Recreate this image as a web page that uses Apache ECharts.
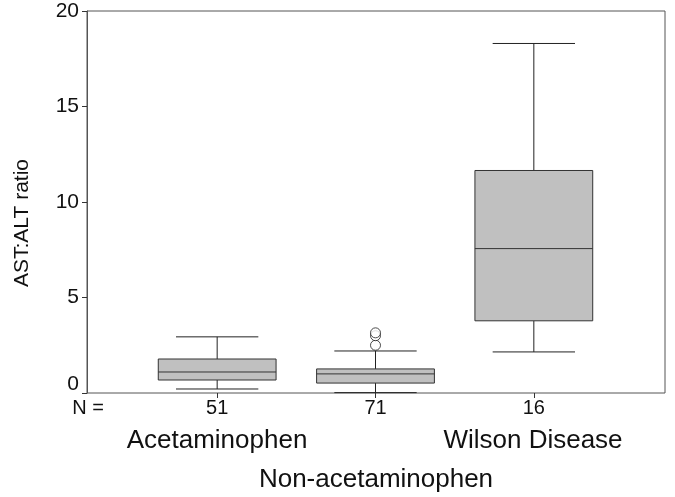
<!DOCTYPE html>
<html>
<head>
<meta charset="utf-8">
<script src="https://cdn.jsdelivr.net/npm/echarts@6/dist/echarts.min.js"></script>
<style>html,body{margin:0;padding:0;background:#fff}#c{width:675px;height:497px}</style>
</head>
<body>
<div id="c"></div>
<script>
// ---- data ----
var nLabels = ['51', '71', '16'];
var groupLabels = ['Acetaminophen', 'Non-acetaminophen', 'Wilson Disease'];
var lowWhisker = [0.21, 0.02, 2.15];
var q1Values = [0.68, 0.52, 3.78];
var medians = [1.10, 1.00, 7.56];
var q3Values = [1.78, 1.26, 11.65];
var highWhisker = [2.94, 2.20, 18.3];
var outlierGroup = [1, 1, 1];
var outlierValues = [2.50, 3.00, 3.15];
var yTicks = [0, 5, 10, 15, 20];
var yTitle = 'AST:ALT ratio';

var boxData = nLabels.map(function (n, i) {
  return [i, lowWhisker[i], q1Values[i], medians[i], q3Values[i], highWhisker[i]];
});
var outData = outlierValues.map(function (v, i) { return [outlierGroup[i], v]; });

var FONT = 'Liberation Sans, Arial, sans-serif';
var chart = echarts.init(document.getElementById('c'));

function renderBox(params, api) {
  var idx = api.value(0);
  var pLow = api.coord([idx, api.value(1)]);
  var pQ1 = api.coord([idx, api.value(2)]);
  var pMed = api.coord([idx, api.value(3)]);
  var pQ3 = api.coord([idx, api.value(4)]);
  var pHigh = api.coord([idx, api.value(5)]);
  var band = api.size([1, 0])[0];
  var hw = band * 0.372;
  var cw = band * 0.26;
  var x = pMed[0];
  var lineStyle = { stroke: '#222', lineWidth: 1, fill: null };
  return {
    type: 'group',
    children: [
      { type: 'line', shape: { x1: x, y1: pQ3[1], x2: x, y2: pHigh[1] }, style: lineStyle },
      { type: 'line', shape: { x1: x, y1: pQ1[1], x2: x, y2: pLow[1] }, style: lineStyle },
      { type: 'line', shape: { x1: x - cw, y1: pHigh[1], x2: x + cw, y2: pHigh[1] }, style: lineStyle },
      { type: 'line', shape: { x1: x - cw, y1: pLow[1], x2: x + cw, y2: pLow[1] }, style: lineStyle },
      { type: 'rect', shape: { x: x - hw, y: pQ3[1], width: hw * 2, height: pQ1[1] - pQ3[1] },
        style: { fill: '#c0c0c0', stroke: '#333', lineWidth: 1 } },
      { type: 'line', shape: { x1: x - hw, y1: pMed[1], x2: x + hw, y2: pMed[1] }, style: { stroke: '#333', lineWidth: 1 } }
    ]
  };
}

var option = {
  backgroundColor: '#fff',
  animation: false,
  textStyle: { fontFamily: FONT },
  grid: [
    { left: 87, right: 10, top: 11, bottom: 104, show: true, borderColor: '#555', borderWidth: 1,
      backgroundColor: 'transparent', containLabel: false, outerBoundsMode: 'none' },
    { left: 138, right: 62, top: 11, bottom: 104, containLabel: false, outerBoundsMode: 'none' }
  ],
  xAxis: [
    { gridIndex: 0, type: 'value', min: 0, max: 1, show: false },
    { gridIndex: 1, type: 'category', data: nLabels,
      axisLine: { show: false },
      axisTick: { show: true, alignWithLabel: true, length: 5, lineStyle: { color: '#333' } },
      axisLabel: { fontSize: 20, color: '#111', margin: 5, fontFamily: FONT } }
  ],
  yAxis: [
    { gridIndex: 0, type: 'value', min: yTicks[0], max: yTicks[yTicks.length - 1], interval: 5,
      axisLine: { show: true, lineStyle: { color: '#555' } },
      axisTick: { show: true, length: 5, lineStyle: { color: '#333' } },
      splitLine: { show: false },
      axisLabel: { fontSize: 21, color: '#111', margin: 8, fontFamily: FONT,
        formatter: function (v) { return v === 0 ? '{z|0}' : String(v); },
        rich: { z: { fontSize: 21, color: '#111', fontFamily: FONT, padding: [0, 0, 18, 0] } } } },
    { gridIndex: 1, type: 'value', min: 0, max: 20, show: false }
  ],
  graphic: [
    { type: 'text', x: 22, y: 223, rotation: Math.PI / 2,
      style: { text: yTitle, font: '21px ' + FONT, fill: '#111', align: 'center', verticalAlign: 'middle' } },
    { type: 'text', x: 88, y: 408, style: { text: 'N =', font: '20px ' + FONT, fill: '#111', align: 'center', verticalAlign: 'middle' } },
    { type: 'text', x: 217, y: 441, style: { text: groupLabels[0], font: '26px ' + FONT, fill: '#111', align: 'center', verticalAlign: 'middle' } },
    { type: 'text', x: 376, y: 480, style: { text: groupLabels[1], font: '26px ' + FONT, fill: '#111', align: 'center', verticalAlign: 'middle' } },
    { type: 'text', x: 533, y: 441, style: { text: groupLabels[2], font: '26px ' + FONT, fill: '#111', align: 'center', verticalAlign: 'middle' } }
  ],
  series: [
    { type: 'custom', xAxisIndex: 1, yAxisIndex: 1, renderItem: renderBox, data: boxData,
      encode: { x: 0, y: [1, 2, 3, 4, 5] } },
    { type: 'scatter', xAxisIndex: 1, yAxisIndex: 1, data: outData, symbol: 'circle', symbolSize: 10,
      itemStyle: { color: '#fff', borderColor: '#222', borderWidth: 1 } }
  ]
};
chart.setOption(option);
</script>
</body>
</html>
